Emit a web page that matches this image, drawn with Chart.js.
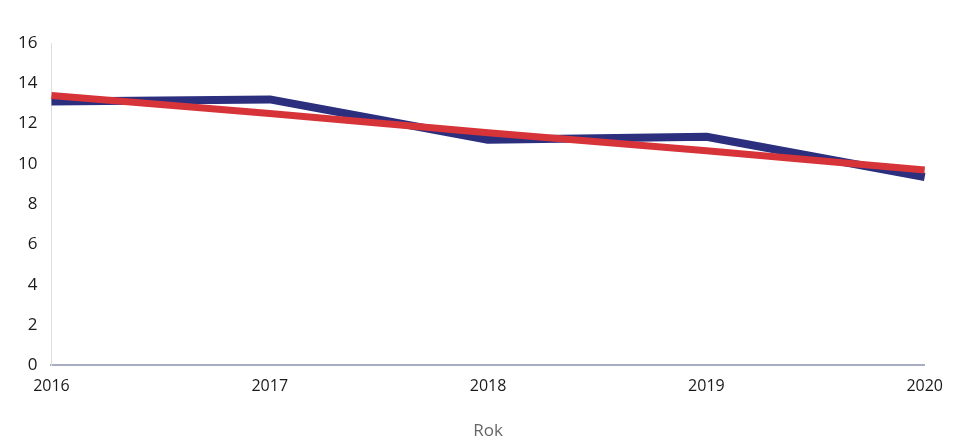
<!DOCTYPE html>
<html>
<head>
<meta charset="utf-8">
<script src="https://cdn.jsdelivr.net/npm/chart.js@4"></script>
<style>
html,body{margin:0;padding:0;background:#fff;}
#wrap{width:954px;height:441px;position:relative;}
</style>
</head>
<body>
<div id="wrap"><canvas id="c" width="954" height="441"></canvas></div>
<script>
const years = ["2016", "2017", "2018", "2019", "2020"];
const actualValues = [13.1, 13.2, 11.2, 11.35, 9.35];
const trendValues = [13.4, 12.5, 11.55, 10.65, 9.7];
const yTicks = [0, 2, 4, 6, 8, 10, 12, 14, 16];
const xTitle = "Rok";

new Chart(document.getElementById('c'), {
  type: 'line',
  data: {
    labels: years,
    datasets: [
      { label: 'Trend', data: trendValues, borderColor: '#d7343a', borderWidth: 7, pointRadius: 0, tension: 0, borderCapStyle: 'butt' },
      { label: 'Wartość', data: actualValues, borderColor: '#2b2f7e', borderWidth: 8, pointRadius: 0, tension: 0, borderCapStyle: 'butt', borderJoinStyle: 'round' }
    ]
  },
  options: {
    responsive: false,
    animation: false,
    layout: { padding: { top: 43, left: 4, right: 17, bottom: 0 } },
    plugins: { legend: { display: false }, tooltip: { enabled: false } },
    scales: {
      x: {
        offset: false,
        grid: { display: false, drawTicks: false },
        border: { display: true, color: '#a9adc4', width: 2 },
        ticks: { color: '#1a1a1a', font: { family: 'Open Sans', size: 16, weight: '500' }, padding: 11, maxRotation: 0 },
        title: { display: true, text: xTitle, color: '#666', font: { family: 'Open Sans', size: 17 }, padding: { top: 14, bottom: 0 } }
      },
      y: {
        min: 0, max: 16,
        afterBuildTicks: (s) => { s.ticks = yTicks.map(v => ({ value: v })); },
        grid: { display: false, drawTicks: false },
        border: { display: true, color: '#dddddd', width: 1 },
        ticks: { color: '#1a1a1a', font: { family: 'Open Sans', size: 17, weight: '500' }, padding: 14 }
      }
    }
  }
});
</script>
</body>
</html>
